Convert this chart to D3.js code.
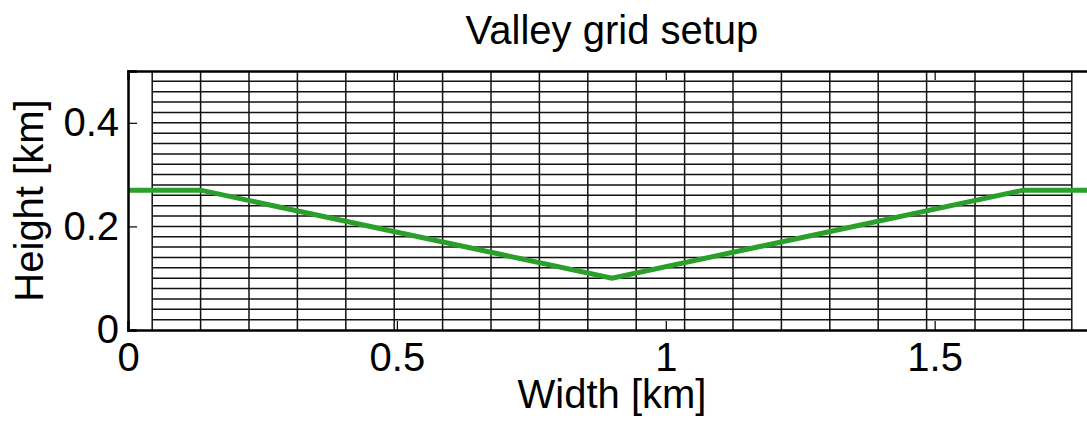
<!DOCTYPE html>
<html>
<head>
<meta charset="utf-8">
<script src="https://cdn.jsdelivr.net/npm/d3@7"></script>
<style>
  body { margin: 0; background: #fff; overflow: hidden; }
  text { font-family: "Liberation Sans", Arial, sans-serif; fill: #000; }
</style>
</head>
<body>
<div id="valley"></div>
<script>
// DATA
const widthTicks = [0, 0.5, 1, 1.5];
const heightTicks = [0, 0.2, 0.4];
// grid cell edges (km)
const gridX = [0.045, 0.135, 0.225, 0.315, 0.405, 0.495, 0.585, 0.675, 0.765, 0.855,
  0.945, 1.035, 1.125, 1.215, 1.305, 1.395, 1.485, 1.575, 1.665, 1.755];
const gridZ = [0.02, 0.04, 0.06, 0.08, 0.1, 0.12, 0.14, 0.16, 0.18, 0.2, 0.22, 0.24,
  0.26, 0.28, 0.3, 0.32, 0.34, 0.36, 0.38, 0.4, 0.42, 0.44, 0.46, 0.48];
// valley profile
const profileX = [0, 0.135, 0.9, 1.665, 1.8];
const profileZ = [0.27, 0.27, 0.1, 0.27, 0.27];

const MARGIN = { LEFT: 128, TOP: 71 };
const WIDTH = 968;
const HEIGHT = 259;
const TICK = 9;
const FONT = "40px";

const svg = d3
  .select("#valley")
  .append("svg")
  .attr("width", 1087)
  .attr("height", 426);

const chart = svg
  .append("g")
  .attr("transform", `translate(${MARGIN.LEFT}, ${MARGIN.TOP})`);

// SCALE
const x = d3.scaleLinear().domain([0, 1.8]).range([0, WIDTH]);
const y = d3.scaleLinear().domain([0, 0.5]).range([HEIGHT, 0]);

// GRID
chart
  .selectAll(".vgrid")
  .data(gridX)
  .enter()
  .append("line")
  .attr("class", "vgrid")
  .attr("x1", (d) => x(d))
  .attr("x2", (d) => x(d))
  .attr("y1", y(0))
  .attr("y2", y(0.5))
  .attr("stroke", "#111")
  .attr("stroke-width", 1.5);

chart
  .selectAll(".hgrid")
  .data(gridZ)
  .enter()
  .append("line")
  .attr("class", "hgrid")
  .attr("x1", x(gridX[0]))
  .attr("x2", x(gridX[gridX.length - 1]))
  .attr("y1", (d) => y(d))
  .attr("y2", (d) => y(d))
  .attr("stroke", "#111")
  .attr("stroke-width", 1.5);

// VALLEY LINE
const line = d3
  .line()
  .x((d, i) => x(profileX[i]))
  .y((d) => y(d));

chart
  .append("path")
  .datum(profileZ)
  .attr("d", line)
  .attr("fill", "none")
  .attr("stroke", "#2a9f2a")
  .attr("stroke-width", 5)
  .attr("stroke-linejoin", "miter");

// AXES (box with inward ticks)
chart
  .append("g")
  .attr("transform", `translate(0, ${HEIGHT})`)
  .call(d3.axisBottom(x).tickValues(widthTicks).tickSize(-TICK).tickPadding(13).tickFormat(d3.format("")))
  .call((g) => {
    g.select(".domain").attr("stroke-width", 2.5);
    g.selectAll(".tick line").attr("stroke-width", 1.2);
    g.selectAll(".tick text").attr("font-size", FONT).attr("dy", "0.71em");
  });

chart
  .append("g")
  .call(d3.axisTop(x).tickValues(widthTicks).tickSize(-TICK).tickFormat(""))
  .call((g) => {
    g.select(".domain").attr("stroke-width", 2.5);
    g.selectAll(".tick line").attr("stroke-width", 1.2);
  });

chart
  .append("g")
  .call(d3.axisLeft(y).tickValues(heightTicks).tickSize(-TICK).tickPadding(9).tickFormat(d3.format("")))
  .call((g) => {
    g.select(".domain").attr("stroke-width", 2.5);
    g.selectAll(".tick line").attr("stroke-width", 1.2);
    g.selectAll(".tick text").attr("font-size", FONT);
  });

chart
  .append("g")
  .attr("transform", `translate(${WIDTH}, 0)`)
  .call(d3.axisRight(y).tickValues(heightTicks).tickSize(-TICK).tickFormat(""))
  .call((g) => {
    g.select(".domain").attr("stroke-width", 2.5);
    g.selectAll(".tick line").attr("stroke-width", 1.2);
  });

// LABELS
svg
  .append("text")
  .attr("x", MARGIN.LEFT + WIDTH / 2)
  .attr("y", 44)
  .attr("text-anchor", "middle")
  .attr("font-size", FONT)
  .text("Valley grid setup");

svg
  .append("text")
  .attr("x", MARGIN.LEFT + WIDTH / 2)
  .attr("y", 408)
  .attr("text-anchor", "middle")
  .attr("font-size", FONT)
  .text("Width [km]");

svg
  .append("text")
  .attr("transform", `translate(43, ${MARGIN.TOP + HEIGHT / 2}) rotate(-90)`)
  .attr("text-anchor", "middle")
  .attr("font-size", FONT)
  .text("Height [km]");
</script>
</body>
</html>
